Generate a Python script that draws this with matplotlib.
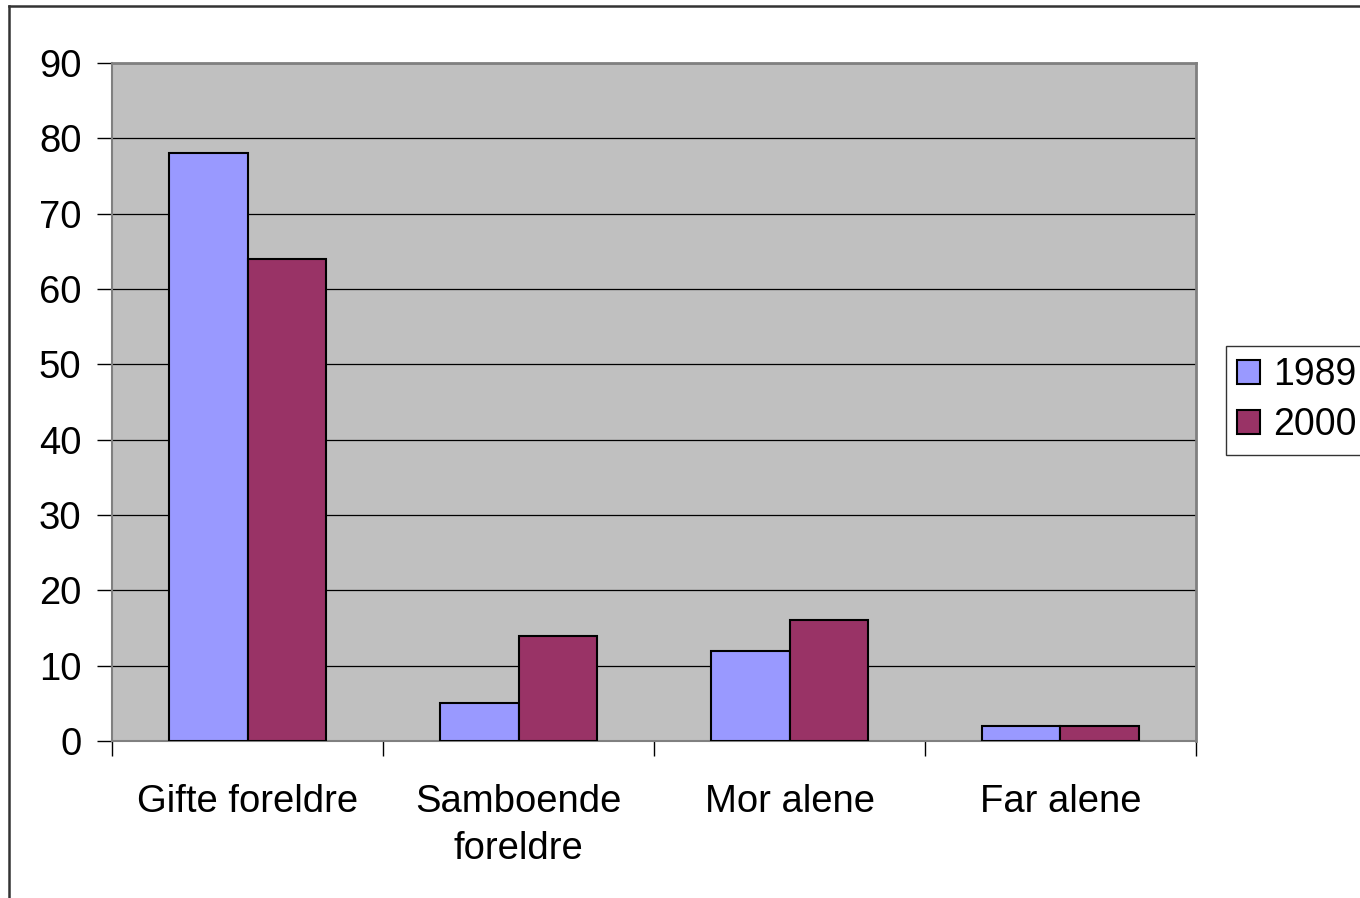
import matplotlib.pyplot as plt
import numpy as np
from matplotlib.lines import Line2D

plt.rcParams['font.family'] = ['Liberation Sans', 'DejaVu Sans']

categories = ['Gifte foreldre', 'Samboende\nforeldre', 'Mor alene', 'Far alene']
years = ['1989', '2000']
v1989 = [78, 5, 12, 2]
v2000 = [64, 14, 16, 2]

fig = plt.figure(figsize=(13.6, 8.98), dpi=100)
ax = fig.add_axes([0.0824, 0.1748, 0.797, 0.755])

x = np.arange(len(categories))
w = 0.29
ax.bar(x - w / 2, v1989, w, color='#9999FF', edgecolor='black', linewidth=1.5, label=years[0], zorder=3)
ax.bar(x + w / 2, v2000, w, color='#993366', edgecolor='black', linewidth=1.5, label=years[1], zorder=3)

ax.set_facecolor('#C0C0C0')
ax.set_xlim(-0.5, 3.5)
ax.set_ylim(0, 90)
ax.set_yticks(range(0, 91, 10))
ax.yaxis.grid(True, color='black', linewidth=0.9, zorder=1)
ax.set_axisbelow(True)

# category labels centered, ticks on category boundaries
ax.set_xticks(x)
ax.set_xticklabels(categories, fontsize=27.5, linespacing=1.4)
ax.tick_params(axis='x', length=0, pad=31)
ax.set_xticks(np.arange(-0.5, 4.0, 1.0), minor=True)
ax.tick_params(axis='x', which='minor', length=11, width=1, color='black', direction='out')
ax.tick_params(axis='y', labelsize=27.5, length=11, width=1, color='black', pad=11)

for s in ['top', 'right']:
    ax.spines[s].set_color('#808080')
    ax.spines[s].set_linewidth(2)
for s in ['left', 'bottom']:
    ax.spines[s].set_color('#808080')
    ax.spines[s].set_linewidth(1.5)

leg = ax.legend(loc='upper left', bbox_to_anchor=(0.9015, 0.6147), bbox_transform=fig.transFigure,
                fontsize=27, frameon=True, fancybox=False, borderaxespad=0,
                handlelength=0.6, handleheight=0.6, handletextpad=0.35,
                borderpad=0.3, labelspacing=0.38)
leg.get_frame().set_edgecolor('black')
leg.get_frame().set_linewidth(1)

# outer chart frame (left and top edges visible)
fig.add_artist(Line2D([0.0063, 0.0063], [0.0, 0.9933], color='#333333', linewidth=1.8))
fig.add_artist(Line2D([0.0063, 1.0], [0.9933, 0.9933], color='#333333', linewidth=1.8))

fig.savefig('out.png', dpi=100)
